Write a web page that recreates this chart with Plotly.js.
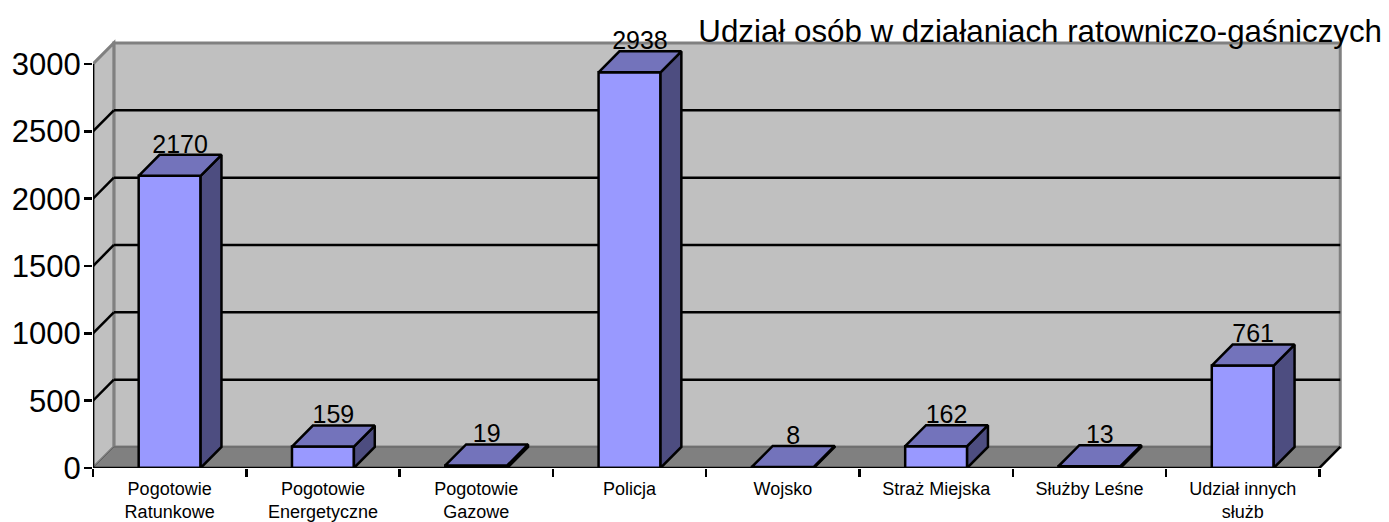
<!DOCTYPE html>
<html>
<head>
<meta charset="utf-8">
<script src="https://cdn.plot.ly/plotly-3.0.1.min.js"></script>
<style>html,body{margin:0;padding:0;background:#fff;overflow:hidden}#chart{width:1389px;height:522px}</style>
</head>
<body>
<div id="chart"></div>
<script>
const categories = ["Pogotowie<br>Ratunkowe","Pogotowie<br>Energetyczne","Pogotowie<br>Gazowe","Policja","Wojsko","Straż Miejska","Służby Leśne","Udział innych<br>służb"];
const values = [2170,159,19,2938,8,162,13,761];
const yTicks = [0,500,1000,1500,2000,2500,3000];
const titleText = "Udział osób w działaniach ratowniczo-gaśniczych";

const FONT = "Liberation Sans, Arial, sans-serif";
const DX = 0.136, DY = 156, BW = 0.404, LABEL_DROP = 30;
const L = -0.5, R = 7.5, TOP = 3000;
const xs = values.map((_, i) => i);
const boundaries = categories.map((_, i) => i - 0.5).concat([R]);

function poly(pts, fill, line, width) {
  return {type:'path', layer:'below', xref:'x', yref:'y',
    path:'M' + pts.map(p => p[0] + ',' + p[1]).join('L') + 'Z',
    fillcolor:fill, line:{color:line, width:width}};
}
function seg(x0,y0,x1,y1,color,width) {
  return {type:'line', layer:'below', xref:'x', yref:'y', x0, y0, x1, y1, line:{color, width}};
}

const shapes = [
  poly([[L+DX,DY],[R+DX,DY],[R+DX,TOP+DY],[L+DX,TOP+DY]], '#C0C0C0', '#808080', 3),
  poly([[L,0],[L+DX,DY],[L+DX,TOP+DY],[L,TOP]], '#C0C0C0', '#808080', 3),
  poly([[L,0],[R,0],[R+DX,DY],[L+DX,DY]], '#808080', '#606060', 1),
  seg(R,0,R+DX,DY,'#000',2.5)
];
yTicks.filter(v => v > 0 && v < TOP).forEach(v => {
  shapes.push(seg(L+DX,v+DY,R+DX,v+DY,'#000',2.5));
  shapes.push(seg(L,v,L+DX,v+DY,'#000',2.5));
});

function faces(fn) {
  const X = [], Y = [];
  values.forEach((v,i) => {
    fn(i - BW/2, i + BW/2, v).forEach(p => { X.push(p[0]); Y.push(p[1]); });
    X.push(null); Y.push(null);
  });
  return {x:X, y:Y};
}
const side = faces((a,b,v) => [[b,0],[b+DX,DY],[b+DX,v+DY],[b,v],[b,0]]);
const top_ = faces((a,b,v) => [[a,v],[a+DX,v+DY],[b+DX,v+DY],[b,v],[a,v]]);
const edge = {color:'#000', width:2.5};

const traces = [
  {type:'bar', x:xs, y:values, width:BW, marker:{color:'#9999FF', line:edge}, cliponaxis:false, hoverinfo:'skip'},
  {type:'scatter', mode:'lines', x:side.x, y:side.y, fill:'toself', fillcolor:'#4D4D80', line:edge, cliponaxis:false, hoverinfo:'skip'},
  {type:'scatter', mode:'lines', x:top_.x, y:top_.y, fill:'toself', fillcolor:'#7373BB', line:edge, cliponaxis:false, hoverinfo:'skip'},
  {type:'scatter', mode:'lines', x:[L,R], y:[0,0], line:edge, cliponaxis:false, hoverinfo:'skip'},
  {type:'scatter', mode:'lines', x:[L,L], y:[0,TOP], line:edge, cliponaxis:false, hoverinfo:'skip'},
  {type:'scatter', mode:'text', x:xs.map(x => x + DX/2), y:values.map(v => v + DY - LABEL_DROP), text:values.map(String),
   textposition:'top center', textfont:{family:FONT, size:25, color:'#000'}, cliponaxis:false, hoverinfo:'skip'}
];

const layout = {
  width:1389, height:522, showlegend:false,
  paper_bgcolor:'#fff', plot_bgcolor:'rgba(0,0,0,0)',
  margin:{l:93, r:44, t:39, b:54, pad:0},
  title:{text:titleText, font:{family:FONT, size:31.3, color:'#000'}, xref:'container', yref:'container',
         x:1382/1389, xanchor:'right', y:1-31/522, yanchor:'middle', automargin:false},
  bargap:0,
  xaxis:{range:[L,7.667], tickmode:'array', tickvals:xs, ticktext:categories, ticks:'outside', ticklen:4, tickcolor:'rgba(0,0,0,0)', showgrid:false, zeroline:false, showline:false,
         tickfont:{family:FONT, size:18, color:'#000'}, tickangle:0, automargin:false,
         minor:{tickmode:'array', tickvals:boundaries, ticks:'outside', ticklen:8, tickwidth:2.5, tickcolor:'#000', showgrid:false}},
  yaxis:{range:[0,3185.6], tickmode:'array', tickvals:yTicks, ticktext:yTicks.map(String), ticks:'outside', ticklen:8, tickwidth:2.5, tickcolor:'#000',
         ticklabelstandoff:-3, showgrid:false, zeroline:false, showline:false, tickfont:{family:FONT, size:31, color:'#000'}, automargin:false},
  shapes:shapes
};
Plotly.newPlot('chart', traces, layout, {displayModeBar:false, staticPlot:true});
</script>
</body>
</html>
